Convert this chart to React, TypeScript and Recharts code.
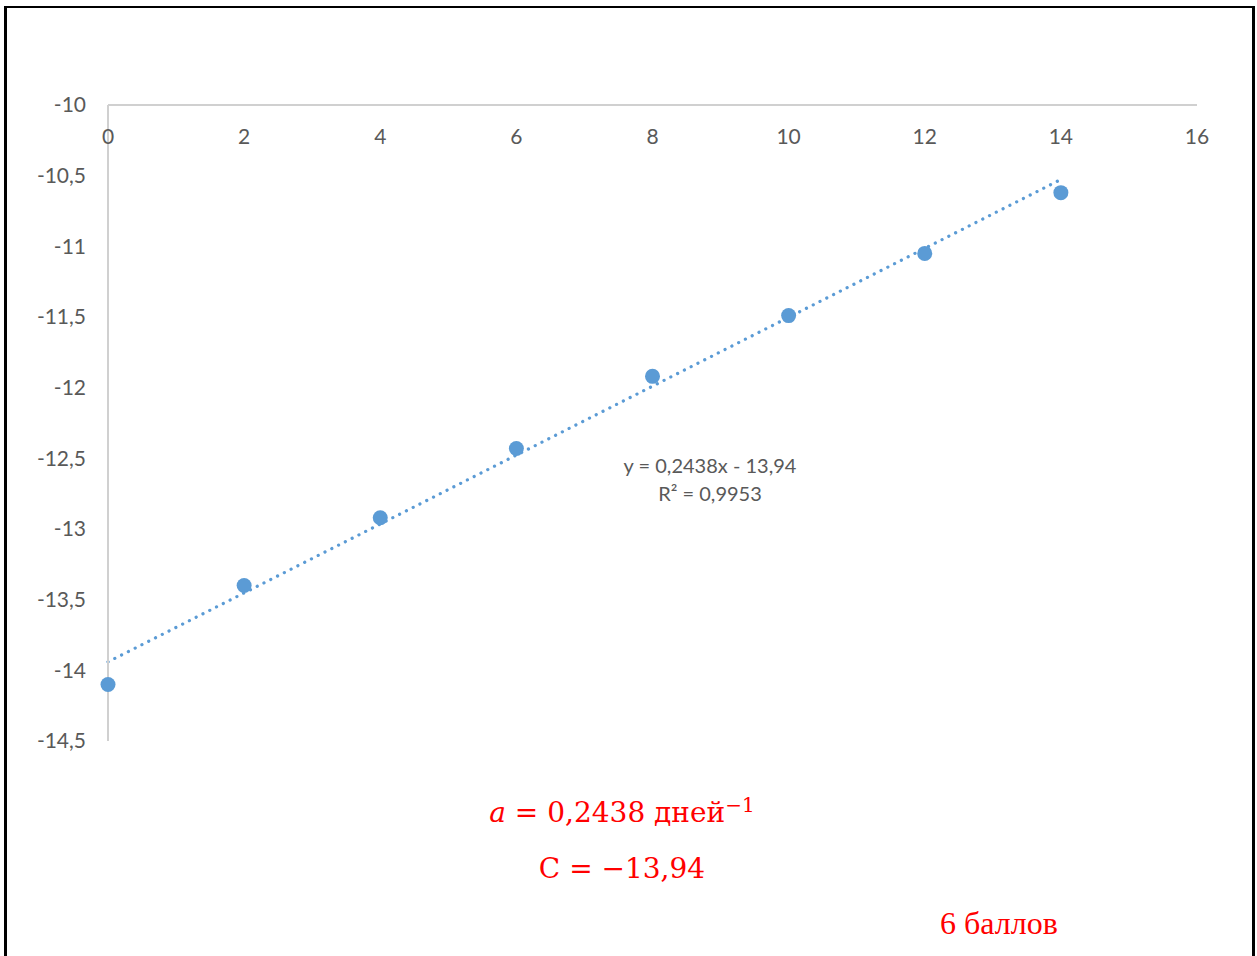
import React from 'react';
import { ScatterChart, Scatter, XAxis, YAxis, ReferenceLine } from 'recharts';

// days
const days = [0, 2, 4, 6, 8, 10, 12, 14];
// ln values
const lnValues = [-14.1, -13.4, -12.92, -12.43, -11.92, -11.49, -11.05, -10.62];
const xTicks = [0, 2, 4, 6, 8, 10, 12, 14, 16];
const yTicks = [-10, -10.5, -11, -11.5, -12, -12.5, -13, -13.5, -14, -14.5];
// Excel linear trendline endpoints (y = 0,2438x - 13,94)
const trendX = [0, 14];
const trendY = [-13.94, -10.527];

const points = days.map((d, i) => ({ x: d, y: lnValues[i] }));
const trendSegment = trendX.map((x, i) => ({ x, y: trendY[i] }));

const comma = (v: number) => String(v).replace('.', ',');
const blue = '#5b9bd5';
const grey = '#595959';

const Dot = (props: any) => <circle cx={props.cx} cy={props.cy} r={7.5} fill={blue} />;

export default function App() {
  return (
    <div style={{ position: 'absolute', left: 0, top: 0, width: 1257, height: 956, background: '#fff', overflow: 'hidden' }}>
      <div
        style={{
          position: 'absolute',
          left: 4,
          top: 6,
          width: 1245,
          height: 960,
          borderLeft: '3px solid #000',
          borderTop: '2px solid #000',
          borderRight: '3px solid #000',
        }}
      />
      <ScatterChart width={1257} height={956} margin={{ top: 105, right: 60, bottom: 215, left: 48 }}>
        <XAxis
          type="number"
          dataKey="x"
          orientation="top"
          mirror
          domain={[0, 16]}
          ticks={xTicks}
          tickLine={false}
          tickSize={0}
          tickMargin={24}
          stroke="#d0d0d0"
          strokeWidth={2}
          tick={{ fill: grey, fontSize: 21, fontFamily: 'Lato' }}
        />
        <YAxis
          type="number"
          dataKey="y"
          width={60}
          domain={[-14.5, -10]}
          ticks={yTicks}
          interval={0}
          tickLine={false}
          tickSize={0}
          tickMargin={22}
          tickFormatter={comma}
          stroke="#d0d0d0"
          strokeWidth={2}
          tick={{ fill: grey, fontSize: 21, fontFamily: 'Lato' }}
        />
        <Scatter data={points} fill={blue} shape={Dot} isAnimationActive={false} />
        <ReferenceLine
          segment={trendSegment}
          stroke={blue}
          strokeWidth={3.2}
          strokeDasharray="0.1 7.5"
          strokeLinecap="round"
        />
      </ScatterChart>
      <div
        style={{
          position: 'absolute',
          left: 560,
          top: 451,
          width: 300,
          textAlign: 'center',
          fontFamily: 'Lato',
          fontSize: 20,
          lineHeight: '28px',
          color: grey,
        }}
      >
        <div>y = 0,2438x - 13,94</div>
        <div>R² = 0,9953</div>
      </div>
      <div
        style={{
          position: 'absolute',
          left: 422,
          top: 777,
          width: 400,
          textAlign: 'center',
          fontFamily: 'DejaVu Serif',
          fontSize: 28,
          color: '#ff0000',
          lineHeight: '56px',
        }}
      >
        <div>
          <i>a</i> = 0,2438 дней<sup style={{ fontSize: 20 }}>−1</sup>
        </div>
        <div>C = −13,94</div>
      </div>
      <div
        style={{
          position: 'absolute',
          left: 940,
          top: 905,
          fontFamily: 'Liberation Serif',
          fontSize: 32,
          color: '#ff0000',
        }}
      >
        6 баллов
      </div>
    </div>
  );
}
